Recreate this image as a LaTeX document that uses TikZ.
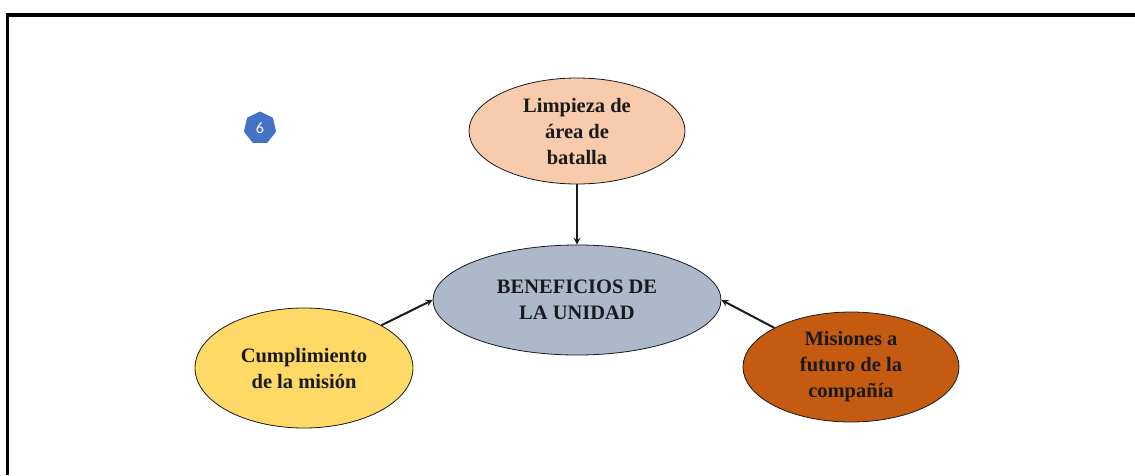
\documentclass[tikz,border=0pt]{standalone}
\usepackage{fontspec}
\setmainfont{Liberation Serif}
\newfontfamily\badgefont{Carlito}
\usetikzlibrary{shapes.geometric}
\definecolor{peach}{HTML}{F8CBAD}
\definecolor{grayblue}{HTML}{ADB9CA}
\definecolor{gold}{HTML}{FFD966}
\definecolor{rust}{HTML}{C55A11}
\definecolor{badgeblue}{HTML}{4472C4}
\definecolor{ink}{HTML}{1A1A1A}
\begin{document}
\begin{tikzpicture}[>=stealth,x=1pt,y=-1pt,
    idea/.style={ellipse,draw=ink,line width=0.8pt,inner sep=0pt,align=center,text=ink,
        font=\fontsize{20.5}{26}\selectfont\bfseries},
    link/.style={->,line width=2pt,draw=ink}]
    \useasboundingbox (0,0) rectangle (1135,475);
    \draw[line width=3.5pt] (7.5,475) |- (1135,15);
    \node[regular polygon,regular polygon sides=7,fill=badgeblue,minimum size=33pt,inner sep=0pt,
        text=white,font=\badgefont\fontsize{16}{16}\selectfont] (badge) at (260,128) {6};
    \node[idea,fill=peach,minimum width=216pt,minimum height=106pt] (limpieza) at (577,131) {Limpieza de\\área de\\batalla};
    \node[idea,fill=grayblue,minimum width=288pt,minimum height=110pt] (beneficios) at (577,300) {BENEFICIOS DE\\LA UNIDAD};
    \node[idea,fill=gold,minimum width=218pt,minimum height=120pt] (mision) at (304,368) {Cumplimiento\\de la misión};
    \node[idea,fill=rust,minimum width=216pt,minimum height=110pt] (futuro) at (851,367) {Misiones a\\futuro de la\\compañía};
    \draw[link] (limpieza.south)--(beneficios.north);
    \draw[link] (mision.north east)--(beneficios.west);
    \draw[link] (futuro.north west)--(beneficios.east);
\end{tikzpicture}
\end{document}
